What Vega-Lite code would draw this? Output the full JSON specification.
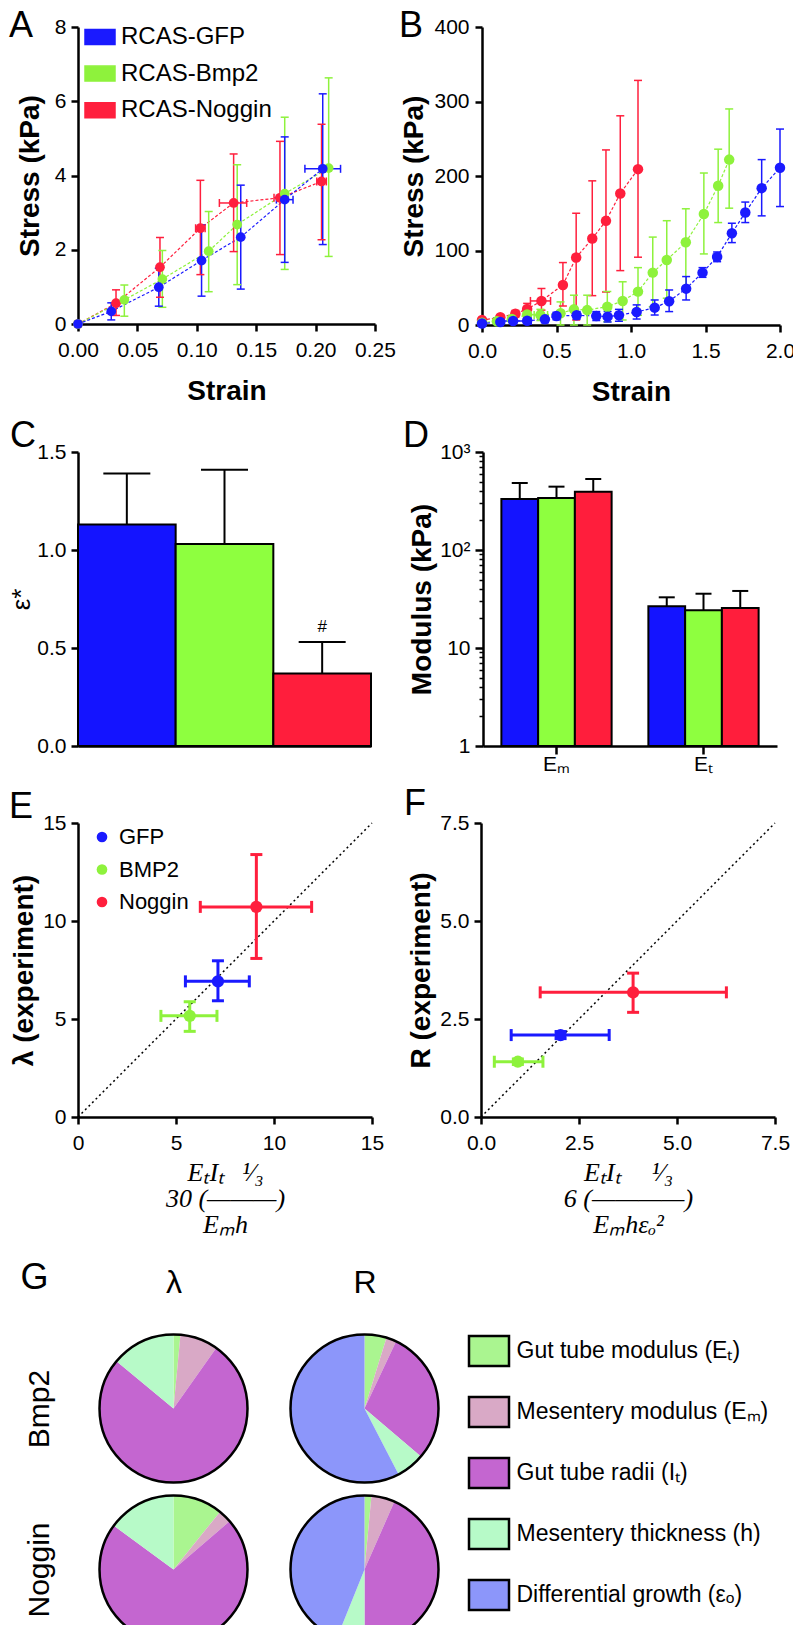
{
"$schema":"https://vega.github.io/schema/vega-lite/v6.json",
"background":"white",
"padding":{"left":8,"top":8,"right":0,"bottom":0},
"bounds":"full",
"spacing":12,
"resolve":{"scale":{"color":"independent"},"legend":{"color":"independent"}},
"config":{
 "font":"Liberation Sans",
 "view":{"stroke":null},
 "axis":{"domainColor":"#000","domainWidth":2.5,"tickColor":"#000","tickWidth":2.5,"tickSize":7,"labelFontSize":21,"labelColor":"#000","labelPadding":5,"labelFont":"Liberation Sans","titleFont":"Liberation Sans","titleFontSize":28,"titleFontWeight":"bold","titleColor":"#000","grid":false,"labelFlush":false,"labelOverlap":false},
 "title":{"fontSize":36,"fontWeight":"normal","anchor":"start","frame":"group","color":"#000","offset":0,"baseline":"alphabetic","font":"Liberation Sans"},
 "legend":{"labelColor":"#000","padding":0,"labelFont":"Liberation Sans","labelLimit":400}
},
"datasets":{
 "A":[
  {"g":"RCAS-Noggin","x":0,"y":0},
  {"g":"RCAS-Noggin","x":0.032,"y":0.56,"ylo":0.23,"yhi":0.92},
  {"g":"RCAS-Noggin","x":0.069,"y":1.53,"ylo":0.72,"yhi":2.33},
  {"g":"RCAS-Noggin","x":0.103,"y":2.58,"ylo":1.33,"yhi":3.87,"xlo":0.099,"xhi":0.107},
  {"g":"RCAS-Noggin","x":0.131,"y":3.26,"ylo":1.95,"yhi":4.58,"xlo":0.119,"xhi":0.142},
  {"g":"RCAS-Noggin","x":0.170,"y":3.40,"ylo":1.87,"yhi":4.92,"xlo":0.165,"xhi":0.175},
  {"g":"RCAS-Noggin","x":0.205,"y":3.84,"ylo":2.27,"yhi":5.38,"xlo":0.201,"xhi":0.209},
  {"g":"RCAS-Bmp2","x":0,"y":0},
  {"g":"RCAS-Bmp2","x":0.039,"y":0.65,"ylo":0.21,"yhi":1.05},
  {"g":"RCAS-Bmp2","x":0.071,"y":1.21,"ylo":0.45,"yhi":1.98},
  {"g":"RCAS-Bmp2","x":0.110,"y":1.96,"ylo":0.87,"yhi":3.03},
  {"g":"RCAS-Bmp2","x":0.134,"y":2.68,"ylo":1.06,"yhi":4.29},
  {"g":"RCAS-Bmp2","x":0.174,"y":3.51,"ylo":1.47,"yhi":5.57},
  {"g":"RCAS-Bmp2","x":0.211,"y":4.20,"ylo":1.82,"yhi":6.63},
  {"g":"RCAS-GFP","x":0,"y":0},
  {"g":"RCAS-GFP","x":0.028,"y":0.34,"ylo":0.11,"yhi":0.57},
  {"g":"RCAS-GFP","x":0.068,"y":0.99,"ylo":0.48,"yhi":1.50},
  {"g":"RCAS-GFP","x":0.104,"y":1.71,"ylo":0.75,"yhi":2.67},
  {"g":"RCAS-GFP","x":0.137,"y":2.34,"ylo":0.94,"yhi":3.74},
  {"g":"RCAS-GFP","x":0.174,"y":3.35,"ylo":1.66,"yhi":5.04,"xlo":0.167,"xhi":0.181},
  {"g":"RCAS-GFP","x":0.206,"y":4.18,"ylo":2.14,"yhi":6.20,"xlo":0.191,"xhi":0.221}
 ],
 "B":[
  {"g":"RCAS-Noggin","x":0,"y":6.7},
  {"g":"RCAS-Noggin","x":0.123,"y":10.3,"ylo":7.5,"yhi":13.5},
  {"g":"RCAS-Noggin","x":0.224,"y":15.2,"ylo":11,"yhi":19.5},
  {"g":"RCAS-Noggin","x":0.303,"y":21.5,"ylo":15.7,"yhi":29},
  {"g":"RCAS-Noggin","x":0.399,"y":32.3,"ylo":20,"yhi":49,"xlo":0.325,"xhi":0.46},
  {"g":"RCAS-Noggin","x":0.543,"y":53.8,"ylo":25.5,"yhi":83.8},
  {"g":"RCAS-Noggin","x":0.632,"y":90.5,"ylo":6.7,"yhi":150},
  {"g":"RCAS-Noggin","x":0.74,"y":116,"ylo":39.4,"yhi":193.5},
  {"g":"RCAS-Noggin","x":0.832,"y":139.8,"ylo":44.3,"yhi":235},
  {"g":"RCAS-Noggin","x":0.928,"y":176.5,"ylo":73,"yhi":280.8},
  {"g":"RCAS-Noggin","x":1.047,"y":209.2,"ylo":91,"yhi":328.3},
  {"g":"RCAS-Bmp2","x":0,"y":3},
  {"g":"RCAS-Bmp2","x":0.1,"y":5},
  {"g":"RCAS-Bmp2","x":0.2,"y":8},
  {"g":"RCAS-Bmp2","x":0.303,"y":14,"ylo":8,"yhi":20},
  {"g":"RCAS-Bmp2","x":0.392,"y":13.4,"ylo":6,"yhi":21,"xlo":0.35,"xhi":0.44},
  {"g":"RCAS-Bmp2","x":0.527,"y":15.7,"ylo":0,"yhi":31},
  {"g":"RCAS-Bmp2","x":0.617,"y":21,"ylo":0,"yhi":40},
  {"g":"RCAS-Bmp2","x":0.706,"y":20,"ylo":0,"yhi":40},
  {"g":"RCAS-Bmp2","x":0.841,"y":24.6,"ylo":4.5,"yhi":45},
  {"g":"RCAS-Bmp2","x":0.944,"y":32.3,"ylo":6.7,"yhi":58},
  {"g":"RCAS-Bmp2","x":1.047,"y":44.8,"ylo":13,"yhi":77},
  {"g":"RCAS-Bmp2","x":1.146,"y":70.3,"ylo":24.6,"yhi":118},
  {"g":"RCAS-Bmp2","x":1.24,"y":87.3,"ylo":36,"yhi":140},
  {"g":"RCAS-Bmp2","x":1.368,"y":111,"ylo":51.5,"yhi":156},
  {"g":"RCAS-Bmp2","x":1.489,"y":149,"ylo":95.4,"yhi":204},
  {"g":"RCAS-Bmp2","x":1.585,"y":187,"ylo":137.5,"yhi":236},
  {"g":"RCAS-Bmp2","x":1.659,"y":222,"ylo":156.8,"yhi":290},
  {"g":"RCAS-GFP","x":0,"y":2},
  {"g":"RCAS-GFP","x":0.123,"y":4,"ylo":1,"yhi":7},
  {"g":"RCAS-GFP","x":0.209,"y":5.4,"ylo":2,"yhi":9,"xlo":0.08,"xhi":0.33},
  {"g":"RCAS-GFP","x":0.303,"y":5.8,"ylo":2,"yhi":10},
  {"g":"RCAS-GFP","x":0.422,"y":7.6,"ylo":3,"yhi":12},
  {"g":"RCAS-GFP","x":0.5,"y":12.1,"ylo":7,"yhi":17},
  {"g":"RCAS-GFP","x":0.635,"y":13,"ylo":8,"yhi":18},
  {"g":"RCAS-GFP","x":0.767,"y":12.1,"ylo":6,"yhi":18},
  {"g":"RCAS-GFP","x":0.843,"y":11.2,"ylo":4,"yhi":18},
  {"g":"RCAS-GFP","x":0.919,"y":13,"ylo":5,"yhi":21},
  {"g":"RCAS-GFP","x":1.038,"y":17.5,"ylo":8,"yhi":27},
  {"g":"RCAS-GFP","x":1.159,"y":23.3,"ylo":13.4,"yhi":33.6},
  {"g":"RCAS-GFP","x":1.256,"y":31.8,"ylo":18,"yhi":47},
  {"g":"RCAS-GFP","x":1.37,"y":48.8,"ylo":33.6,"yhi":65},
  {"g":"RCAS-GFP","x":1.48,"y":70.3,"ylo":64,"yhi":77},
  {"g":"RCAS-GFP","x":1.578,"y":91.4,"ylo":85,"yhi":98},
  {"g":"RCAS-GFP","x":1.677,"y":123.2,"ylo":110.6,"yhi":136.6},
  {"g":"RCAS-GFP","x":1.767,"y":151,"ylo":137.5,"yhi":165},
  {"g":"RCAS-GFP","x":1.877,"y":183.7,"ylo":146.5,"yhi":222},
  {"g":"RCAS-GFP","x":2.0,"y":211,"ylo":159,"yhi":263}
 ],
 "C":[
  {"g":"RCAS-GFP","v":1.13,"hi":1.39},
  {"g":"RCAS-Bmp2","v":1.03,"hi":1.41},
  {"g":"RCAS-Noggin","v":0.37,"hi":0.53}
 ],
 "D":[
  {"p":"Eₘ","g":"RCAS-GFP","v":331,"hi":483},
  {"p":"Eₘ","g":"RCAS-Bmp2","v":340,"hi":443},
  {"p":"Eₘ","g":"RCAS-Noggin","v":394,"hi":530},
  {"p":"Eₜ","g":"RCAS-GFP","v":26.6,"hi":32.9},
  {"p":"Eₜ","g":"RCAS-Bmp2","v":24.3,"hi":35.8},
  {"p":"Eₜ","g":"RCAS-Noggin","v":25.6,"hi":38.2}
 ],
 "E":[
  {"g":"BMP2","x":5.70,"y":5.16,"xlo":4.23,"xhi":7.09,"ylo":4.37,"yhi":5.88},
  {"g":"GFP","x":7.14,"y":6.92,"xlo":5.48,"xhi":8.74,"ylo":5.93,"yhi":7.97},
  {"g":"Noggin","x":9.10,"y":10.72,"xlo":6.24,"xhi":11.92,"ylo":8.09,"yhi":13.39}
 ],
 "F":[
  {"g":"BMP2","x":0.94,"y":1.41,"xlo":0.34,"xhi":1.58,"ylo":1.34,"yhi":1.48},
  {"g":"GFP","x":2.03,"y":2.09,"xlo":0.77,"xhi":3.27,"ylo":2.0,"yhi":2.18},
  {"g":"Noggin","x":3.88,"y":3.18,"xlo":1.51,"xhi":6.26,"ylo":2.67,"yhi":3.67}
 ],
 "lineE":[{"x":0,"y":0},{"x":15,"y":15}],
 "lineF":[{"x":0,"y":0},{"x":7.5,"y":7.5}],
 "G":[
  {"param":"λ","cond":"Bmp2","f":"Gut tube modulus (Eₜ)","k":1,"v":1.5},
  {"param":"λ","cond":"Bmp2","f":"Mesentery modulus (Eₘ)","k":2,"v":8.3},
  {"param":"λ","cond":"Bmp2","f":"Gut tube radii (Iₜ)","k":3,"v":76.2},
  {"param":"λ","cond":"Bmp2","f":"Mesentery thickness (h)","k":4,"v":14.0},
  {"param":"R","cond":"Bmp2","f":"Gut tube modulus (Eₜ)","k":1,"v":4.8},
  {"param":"R","cond":"Bmp2","f":"Mesentery modulus (Eₘ)","k":2,"v":2.2},
  {"param":"R","cond":"Bmp2","f":"Gut tube radii (Iₜ)","k":3,"v":29.2},
  {"param":"R","cond":"Bmp2","f":"Mesentery thickness (h)","k":4,"v":6.2},
  {"param":"R","cond":"Bmp2","f":"Differential growth (εₒ)","k":5,"v":57.6},
  {"param":"λ","cond":"Noggin","f":"Gut tube modulus (Eₜ)","k":1,"v":10.8},
  {"param":"λ","cond":"Noggin","f":"Mesentery modulus (Eₘ)","k":2,"v":2.9},
  {"param":"λ","cond":"Noggin","f":"Gut tube radii (Iₜ)","k":3,"v":71.4},
  {"param":"λ","cond":"Noggin","f":"Mesentery thickness (h)","k":4,"v":14.9},
  {"param":"R","cond":"Noggin","f":"Gut tube modulus (Eₜ)","k":1,"v":1.5},
  {"param":"R","cond":"Noggin","f":"Mesentery modulus (Eₘ)","k":2,"v":5.1},
  {"param":"R","cond":"Noggin","f":"Gut tube radii (Iₜ)","k":3,"v":43.4},
  {"param":"R","cond":"Noggin","f":"Mesentery thickness (h)","k":4,"v":6.1},
  {"param":"R","cond":"Noggin","f":"Differential growth (εₒ)","k":5,"v":43.9}
 ]
},
"vconcat":[
 {"hconcat":[
  {"width":297,"height":297,
   "title":{"text":"A","dx":-69,"dy":33},
   "data":{"name":"A"},
   "encoding":{
    "x":{"field":"x","type":"quantitative","scale":{"domain":[0,0.25],"nice":false,"zero":false},"axis":{"values":[0,0.05,0.1,0.15,0.2,0.25],"format":".2f","title":"Strain","labelPadding":8,"titlePadding":17}},
    "y":{"field":"y","type":"quantitative","scale":{"domain":[0,8],"nice":false},"axis":{"values":[0,2,4,6,8],"title":"Stress (kPa)","titlePadding":10}},
    "color":{"field":"g","type":"nominal","scale":{"domain":["RCAS-GFP","RCAS-Bmp2","RCAS-Noggin"],"range":["#1a1aff","#8ef23c","#ff1f3d"]}}
   },
   "layer":[
    {"transform":[{"filter":"false"}],
     "mark":{"type":"point","shape":"M-1,-0.5H1V0.5H-1Z","filled":true,"stroke":"black","strokeWidth":1.5,"opacity":1},
     "encoding":{"color":{"field":"g","type":"nominal","scale":{"domain":["RCAS-GFP","RCAS-Bmp2","RCAS-Noggin"],"range":["#1a1aff","#8ef23c","#ff1f3d"]},
      "legend":{"title":null,"orient":"none","legendX":6,"legendY":-6,"symbolType":"M-1,-0.5H1V0.5H-1Z","symbolSize":900,"symbolStrokeColor":"black","symbolStrokeWidth":1.5,"symbolOpacity":1,"labelFontSize":24,"rowPadding":8.6,"labelOffset":5}}}},
    {"mark":{"type":"line","strokeDash":[3,2],"strokeWidth":1.2},"encoding":{"order":{"field":"x","type":"quantitative"}}},
    {"mark":{"type":"rule","strokeWidth":1.5},"encoding":{"y":{"field":"ylo","type":"quantitative"},"y2":{"field":"yhi"}}},
    {"mark":{"type":"tick","orient":"horizontal","size":8,"thickness":1.5,"opacity":1},"encoding":{"y":{"field":"ylo","type":"quantitative"}}},
    {"mark":{"type":"tick","orient":"horizontal","size":8,"thickness":1.5,"opacity":1},"encoding":{"y":{"field":"yhi","type":"quantitative"}}},
    {"mark":{"type":"rule","strokeWidth":1.5},"encoding":{"x":{"field":"xlo","type":"quantitative"},"x2":{"field":"xhi"}}},
    {"mark":{"type":"tick","orient":"vertical","size":8,"thickness":1.5,"opacity":1},"encoding":{"x":{"field":"xlo","type":"quantitative"}}},
    {"mark":{"type":"tick","orient":"vertical","size":8,"thickness":1.5,"opacity":1},"encoding":{"x":{"field":"xhi","type":"quantitative"}}},
    {"mark":{"type":"point","filled":true,"opacity":1,"size":95}}
   ]
  },
  {"width":298,"height":298,
   "title":{"text":"B","dx":-83,"dy":33},
   "data":{"name":"B"},
   "encoding":{
    "x":{"field":"x","type":"quantitative","scale":{"domain":[0,2],"nice":false},"axis":{"values":[0,0.5,1,1.5,2],"format":".1f","title":"Strain","labelPadding":8,"titlePadding":17}},
    "y":{"field":"y","type":"quantitative","scale":{"domain":[0,400],"nice":false},"axis":{"values":[0,100,200,300,400],"title":"Stress (kPa)","titlePadding":5,"labelPadding":6}},
    "color":{"field":"g","type":"nominal","scale":{"domain":["RCAS-GFP","RCAS-Bmp2","RCAS-Noggin"],"range":["#1a1aff","#8ef23c","#ff1f3d"]},"legend":null}
   },
   "layer":[
    {"mark":{"type":"line","strokeDash":[3,2],"strokeWidth":1.2},"encoding":{"order":{"field":"x","type":"quantitative"}}},
    {"mark":{"type":"rule","strokeWidth":1.5},"encoding":{"y":{"field":"ylo","type":"quantitative"},"y2":{"field":"yhi"}}},
    {"mark":{"type":"tick","orient":"horizontal","size":8,"thickness":1.5,"opacity":1},"encoding":{"y":{"field":"ylo","type":"quantitative"}}},
    {"mark":{"type":"tick","orient":"horizontal","size":8,"thickness":1.5,"opacity":1},"encoding":{"y":{"field":"yhi","type":"quantitative"}}},
    {"mark":{"type":"rule","strokeWidth":1.5},"encoding":{"x":{"field":"xlo","type":"quantitative"},"x2":{"field":"xhi"}}},
    {"mark":{"type":"tick","orient":"vertical","size":8,"thickness":1.5,"opacity":1},"encoding":{"x":{"field":"xlo","type":"quantitative"}}},
    {"mark":{"type":"tick","orient":"vertical","size":8,"thickness":1.5,"opacity":1},"encoding":{"x":{"field":"xhi","type":"quantitative"}}},
    {"mark":{"type":"point","filled":true,"opacity":1,"size":110}}
   ]
  }
 ],"spacing":3,"bounds":"full","resolve":{"scale":{"color":"independent"},"legend":{"color":"independent"}}},
 {"hconcat":[
  {"width":293,"height":294,
   "title":{"text":"C","dx":-68,"dy":18},
   "data":{"name":"C"},
   "encoding":{
    "x":{"field":"g","type":"nominal","sort":null,"scale":{"paddingInner":0,"paddingOuter":0},"axis":{"labels":false,"ticks":false,"title":null}},
    "y":{"field":"v","type":"quantitative","scale":{"domain":[0,1.5],"nice":false},"axis":{"values":[0,0.5,1,1.5],"format":".1f","title":"ε*","titleFontWeight":"normal","titleFontSize":26,"titlePadding":2}}
   },
   "layer":[
    {"mark":{"type":"rule","strokeWidth":2,"color":"black"},"encoding":{"y2":{"field":"hi"}}},
    {"mark":{"type":"tick","orient":"horizontal","size":47,"thickness":2,"color":"black","opacity":1},"encoding":{"y":{"field":"hi","type":"quantitative"}}},
    {"mark":{"type":"bar","stroke":"black","strokeWidth":2},"encoding":{"color":{"field":"g","type":"nominal","scale":{"domain":["RCAS-GFP","RCAS-Bmp2","RCAS-Noggin"],"range":["#1414ff","#8eff3f","#ff1e3c"]},"legend":null}}},
    {"transform":[{"filter":"datum.g == 'RCAS-Noggin'"}],"mark":{"type":"text","text":"#","fontSize":17,"dy":-10,"baseline":"alphabetic","color":"black"},"encoding":{"y":{"field":"hi","type":"quantitative"}}}
   ]
  },
  {"width":294,"height":294,
   "title":{"text":"D","dx":-80,"dy":18},
   "data":{"name":"D"},
   "encoding":{
    "x":{"field":"p","type":"nominal","sort":null,"scale":{"paddingInner":0.25,"paddingOuter":0.125},"axis":{"labelAngle":0,"title":null,"labelPadding":-1,"tickSize":8}},
    "xOffset":{"field":"g","type":"nominal","sort":null,"scale":{"paddingInner":0,"paddingOuter":0}},
    "y":{"field":"v","type":"quantitative","scale":{"type":"log","domain":[1,1000],"nice":false},"axis":{"values":[1,2,3,4,5,6,7,8,9,10,20,30,40,50,60,70,80,90,100,200,300,400,500,600,700,800,900,1000],"labelExpr":"datum.value == 1 ? '1' : datum.value == 10 ? '10' : datum.value == 100 ? '10²' : datum.value == 1000 ? '10³' : ''","tickSize":{"condition":{"test":"indexof([1,10,100,1000], datum.value) >= 0","value":8},"value":4},"tickWidth":{"condition":{"test":"indexof([1,10,100,1000], datum.value) >= 0","value":2.5},"value":1.5},"title":"Modulus (kPa)","titlePadding":3}}
   },
   "layer":[
    {"mark":{"type":"rule","strokeWidth":2,"color":"black"},"encoding":{"y2":{"field":"hi"}}},
    {"mark":{"type":"tick","orient":"horizontal","size":16,"thickness":2,"color":"black","opacity":1},"encoding":{"y":{"field":"hi","type":"quantitative"}}},
    {"mark":{"type":"bar","stroke":"black","strokeWidth":2},"encoding":{"y2":{"datum":1},"color":{"field":"g","type":"nominal","scale":{"domain":["RCAS-GFP","RCAS-Bmp2","RCAS-Noggin"],"range":["#1414ff","#8eff3f","#ff1e3c"]},"legend":null}}}
   ]
  }
 ],"spacing":31,"bounds":"full","resolve":{"scale":{"color":"independent"},"legend":{"color":"independent"}}},
 {"hconcat":[
  {"width":294,"height":294,
   "title":{"text":"E","dx":-69,"dy":18},
   "encoding":{
    "x":{"field":"x","type":"quantitative","scale":{"domain":[0,15],"nice":false},"axis":{"values":[0,5,10,15],"labelPadding":8,"titlePadding":6,"title":["EₜIₜ\u2002\u2009¹⁄₃","30 (———)\u2003\u2003\u2002\u2009","Eₘh\u2003\u2002"],"titleFont":"Liberation Serif","titleFontStyle":"italic","titleFontWeight":"normal","titleFontSize":26,"titleLineHeight":26}},
    "y":{"field":"y","type":"quantitative","scale":{"domain":[0,15],"nice":false},"axis":{"values":[0,5,10,15],"title":"λ (experiment)","titlePadding":4}},
    "color":{"field":"g","type":"nominal","scale":{"domain":["GFP","BMP2","Noggin"],"range":["#1a1aff","#8ef23c","#ff1f3d"]}}
   },
   "layer":[
    {"data":{"name":"E"},"transform":[{"filter":"false"}],"mark":{"type":"point","shape":"circle","filled":true,"opacity":1},
     "encoding":{"color":{"field":"g","type":"nominal","scale":{"domain":["GFP","BMP2","Noggin"],"range":["#1a1aff","#8ef23c","#ff1f3d"]},"legend":{"title":null,"orient":"none","legendX":13,"legendY":3,"symbolType":"circle","symbolSize":113,"symbolOpacity":1,"symbolStrokeWidth":0,"labelFontSize":22,"rowPadding":10.5,"labelOffset":6}}}},
    {"data":{"name":"lineE"},"mark":{"type":"line","strokeDash":[2,3],"strokeWidth":1.5,"color":"black"},"encoding":{"color":{"value":"black"}}},
    {"data":{"name":"E"},"mark":{"type":"rule","strokeWidth":3},"encoding":{"y":{"field":"ylo","type":"quantitative"},"y2":{"field":"yhi"}}},
    {"data":{"name":"E"},"mark":{"type":"rule","strokeWidth":3},"encoding":{"x":{"field":"xlo","type":"quantitative"},"x2":{"field":"xhi"}}},
    {"data":{"name":"E"},"mark":{"type":"tick","orient":"horizontal","size":12,"thickness":3,"opacity":1},"encoding":{"y":{"field":"ylo","type":"quantitative"}}},
    {"data":{"name":"E"},"mark":{"type":"tick","orient":"horizontal","size":12,"thickness":3,"opacity":1},"encoding":{"y":{"field":"yhi","type":"quantitative"}}},
    {"data":{"name":"E"},"mark":{"type":"tick","orient":"vertical","size":12,"thickness":3,"opacity":1},"encoding":{"x":{"field":"xlo","type":"quantitative"}}},
    {"data":{"name":"E"},"mark":{"type":"tick","orient":"vertical","size":12,"thickness":3,"opacity":1},"encoding":{"x":{"field":"xhi","type":"quantitative"}}},
    {"data":{"name":"E"},"mark":{"type":"point","filled":true,"opacity":1,"size":150}}
   ]
  },
  {"width":294,"height":294,
   "title":{"text":"F","dx":-77,"dy":15},
   "encoding":{
    "x":{"field":"x","type":"quantitative","scale":{"domain":[0,7.5],"nice":false},"axis":{"values":[0,2.5,5,7.5],"format":".1f","labelPadding":8,"titlePadding":6,"title":["EₜIₜ\u2003\u2009¹⁄₃","6 (————)\u2003\u2003\u2002\u2009","Eₘhεₒ²\u2003\u2003"],"titleFont":"Liberation Serif","titleFontStyle":"italic","titleFontWeight":"normal","titleFontSize":26,"titleLineHeight":26}},
    "y":{"field":"y","type":"quantitative","scale":{"domain":[0,7.5],"nice":false},"axis":{"values":[0,2.5,5,7.5],"format":".1f","title":"R (experiment)","titlePadding":4}},
    "color":{"field":"g","type":"nominal","scale":{"domain":["GFP","BMP2","Noggin"],"range":["#1a1aff","#8ef23c","#ff1f3d"]},"legend":null}
   },
   "layer":[
    {"data":{"name":"lineF"},"mark":{"type":"line","strokeDash":[2,3],"strokeWidth":1.5,"color":"black"},"encoding":{"color":{"value":"black"}}},
    {"data":{"name":"F"},"mark":{"type":"rule","strokeWidth":3},"encoding":{"y":{"field":"ylo","type":"quantitative"},"y2":{"field":"yhi"}}},
    {"data":{"name":"F"},"mark":{"type":"rule","strokeWidth":3},"encoding":{"x":{"field":"xlo","type":"quantitative"},"x2":{"field":"xhi"}}},
    {"data":{"name":"F"},"mark":{"type":"tick","orient":"horizontal","size":12,"thickness":3,"opacity":1},"encoding":{"y":{"field":"ylo","type":"quantitative"}}},
    {"data":{"name":"F"},"mark":{"type":"tick","orient":"horizontal","size":12,"thickness":3,"opacity":1},"encoding":{"y":{"field":"yhi","type":"quantitative"}}},
    {"data":{"name":"F"},"mark":{"type":"tick","orient":"vertical","size":12,"thickness":3,"opacity":1},"encoding":{"x":{"field":"xlo","type":"quantitative"}}},
    {"data":{"name":"F"},"mark":{"type":"tick","orient":"vertical","size":12,"thickness":3,"opacity":1},"encoding":{"x":{"field":"xhi","type":"quantitative"}}},
    {"data":{"name":"F"},"mark":{"type":"point","filled":true,"opacity":1,"size":150}}
   ]
  }
 ],"spacing":20,"bounds":"full","resolve":{"scale":{"color":"independent"},"legend":{"color":"independent"}}},
 {"width":382,"height":322,
  "title":{"text":"G","dx":-57.5,"dy":51.5},
  "data":{"name":"G"},
  "transform":[{"stack":"v","groupby":["param","cond"],"sort":[{"field":"k","order":"ascending"}],"offset":"normalize","as":["t0","t1"]}],
  "encoding":{
   "x":{"field":"param","type":"nominal","sort":["λ","R"],"scale":{"type":"point","padding":0.5},"axis":{"orient":"top","domain":false,"ticks":false,"tickSize":0,"labelAngle":0,"labelFontSize":32,"labelPadding":29,"title":"\u2002","titleFontSize":10,"titlePadding":7}},
   "y":{"field":"cond","type":"nominal","sort":["Bmp2","Noggin"],"scale":{"type":"point","padding":0.5},"axis":{"domain":false,"ticks":false,"tickSize":0,"labelAngle":-90,"labelAlign":"center","labelBaseline":"bottom","labelFontSize":30,"labelPadding":23.5,"title":null}}
  },
  "layer":[
   {"transform":[{"filter":"false"}],"mark":{"type":"point","shape":"M-1,-0.75H1V0.75H-1Z","filled":true,"stroke":"black","strokeWidth":2.5,"opacity":1},
    "encoding":{"color":{"field":"f","type":"nominal","sort":null,"scale":{"domain":["Gut tube modulus (Eₜ)","Mesentery modulus (Eₘ)","Gut tube radii (Iₜ)","Mesentery thickness (h)","Differential growth (εₒ)"],"range":["#aaf590","#d9a9c6","#c466d0","#b7fac8","#8c96fa"]},
     "legend":{"title":null,"orient":"none","legendX":389.5,"legendY":1.5,"symbolType":"M-1,-0.75H1V0.75H-1Z","symbolSize":1600,"symbolStrokeColor":"black","symbolStrokeWidth":2.5,"symbolOpacity":1,"labelFontSize":23,"labelLimit":400,"rowPadding":19,"labelOffset":6}}}},
   {"mark":{"type":"arc","radius":74},"encoding":{"theta":{"field":"t0","type":"quantitative","scale":{"domain":[0,1]}},"theta2":{"field":"t1"},"color":{"field":"f","type":"nominal","sort":null,"scale":{"domain":["Gut tube modulus (Eₜ)","Mesentery modulus (Eₘ)","Gut tube radii (Iₜ)","Mesentery thickness (h)","Differential growth (εₒ)"],"range":["#aaf590","#d9a9c6","#c466d0","#b7fac8","#8c96fa"]}}}},
   {"transform":[{"aggregate":[{"op":"count","as":"n"}],"groupby":["param","cond"]}],"mark":{"type":"point","shape":"circle","size":21904,"filled":false,"stroke":"black","strokeWidth":2.5,"opacity":1}}
  ]
 }
]
}
